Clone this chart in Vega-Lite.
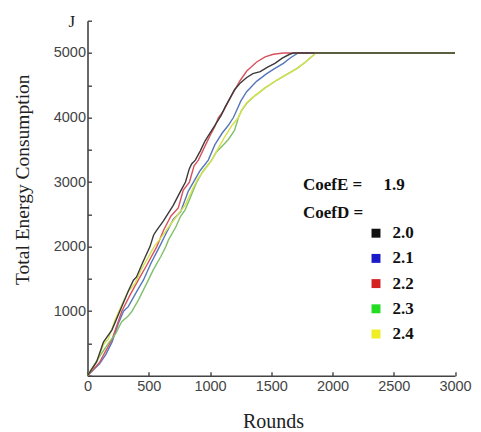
{
  "$schema": "https://vega.github.io/schema/vega-lite/v6.json",
  "autosize": {"type": "none"},
  "width": 367.5,
  "height": 355,
  "padding": {"left": 87.5, "top": 20.7, "right": 26, "bottom": 56.3},
  "background": "white",
  "config": {"view": {"stroke": null}},
  "title": {"text": "J", "anchor": "start", "frame": "group", "orient": "top", "font": "Liberation Serif", "fontSize": 17, "fontWeight": "normal", "color": "#222222", "baseline": "alphabetic", "offset": 0, "dx": -19, "dy": 31.5},
  "data": {"values": [
    {"r":0,"e":0,"c":"2.1"},{"r":100,"e":190,"c":"2.1"},{"r":150,"e":330,"c":"2.1"},{"r":200,"e":520,"c":"2.1"},{"r":252,"e":810,"c":"2.1"},{"r":294,"e":1000,"c":"2.1"},{"r":333,"e":1070,"c":"2.1"},{"r":400,"e":1300,"c":"2.1"},{"r":456,"e":1480,"c":"2.1"},{"r":520,"e":1750,"c":"2.1"},{"r":588,"e":2000,"c":"2.1"},{"r":640,"e":2200,"c":"2.1"},{"r":700,"e":2420,"c":"2.1"},{"r":760,"e":2540,"c":"2.1"},{"r":823,"e":2860,"c":"2.1"},{"r":865,"e":3000,"c":"2.1"},{"r":920,"e":3180,"c":"2.1"},{"r":986,"e":3340,"c":"2.1"},{"r":1040,"e":3580,"c":"2.1"},{"r":1100,"e":3760,"c":"2.1"},{"r":1150,"e":3880,"c":"2.1"},{"r":1191,"e":4000,"c":"2.1"},{"r":1218,"e":4113,"c":"2.1"},{"r":1250,"e":4250,"c":"2.1"},{"r":1299,"e":4400,"c":"2.1"},{"r":1380,"e":4560,"c":"2.1"},{"r":1463,"e":4680,"c":"2.1"},{"r":1530,"e":4760,"c":"2.1"},{"r":1599,"e":4840,"c":"2.1"},{"r":1660,"e":4930,"c":"2.1"},{"r":1720,"e":5000,"c":"2.1"},{"r":3000,"e":5000,"c":"2.1"},

    {"r":0,"e":0,"c":"2.2"},{"r":100,"e":210,"c":"2.2"},{"r":130,"e":320,"c":"2.2"},{"r":200,"e":560,"c":"2.2"},{"r":280,"e":1000,"c":"2.2"},{"r":350,"e":1260,"c":"2.2"},{"r":420,"e":1500,"c":"2.2"},{"r":480,"e":1700,"c":"2.2"},{"r":566,"e":2000,"c":"2.2"},{"r":620,"e":2250,"c":"2.2"},{"r":680,"e":2470,"c":"2.2"},{"r":741,"e":2600,"c":"2.2"},{"r":782,"e":2875,"c":"2.2"},{"r":832,"e":3000,"c":"2.2"},{"r":870,"e":3250,"c":"2.2"},{"r":905,"e":3340,"c":"2.2"},{"r":960,"e":3560,"c":"2.2"},{"r":1000,"e":3720,"c":"2.2"},{"r":1040,"e":3860,"c":"2.2"},{"r":1069,"e":4000,"c":"2.2"},{"r":1109,"e":4100,"c":"2.2"},{"r":1150,"e":4250,"c":"2.2"},{"r":1200,"e":4420,"c":"2.2"},{"r":1245,"e":4570,"c":"2.2"},{"r":1300,"e":4720,"c":"2.2"},{"r":1381,"e":4860,"c":"2.2"},{"r":1450,"e":4940,"c":"2.2"},{"r":1517,"e":4980,"c":"2.2"},{"r":1600,"e":5000,"c":"2.2"},{"r":3000,"e":5000,"c":"2.2"},

    {"r":0,"e":0,"c":"2.3"},{"r":88,"e":269,"c":"2.3"},{"r":170,"e":500,"c":"2.3"},{"r":230,"e":650,"c":"2.3"},{"r":279,"e":836,"c":"2.3"},{"r":330,"e":920,"c":"2.3"},{"r":360,"e":990,"c":"2.3"},{"r":415,"e":1170,"c":"2.3"},{"r":483,"e":1430,"c":"2.3"},{"r":540,"e":1650,"c":"2.3"},{"r":600,"e":1850,"c":"2.3"},{"r":639,"e":2000,"c":"2.3"},{"r":660,"e":2100,"c":"2.3"},{"r":720,"e":2300,"c":"2.3"},{"r":760,"e":2470,"c":"2.3"},{"r":796,"e":2565,"c":"2.3"},{"r":840,"e":2760,"c":"2.3"},{"r":864,"e":2875,"c":"2.3"},{"r":892,"e":3000,"c":"2.3"},{"r":940,"e":3160,"c":"2.3"},{"r":1014,"e":3340,"c":"2.3"},{"r":1050,"e":3460,"c":"2.3"},{"r":1100,"e":3560,"c":"2.3"},{"r":1150,"e":3660,"c":"2.3"},{"r":1200,"e":3800,"c":"2.3"},{"r":1232,"e":4000,"c":"2.3"},{"r":1259,"e":4113,"c":"2.3"},{"r":1300,"e":4220,"c":"2.3"},{"r":1354,"e":4319,"c":"2.3"},{"r":1450,"e":4460,"c":"2.3"},{"r":1544,"e":4577,"c":"2.3"},{"r":1620,"e":4660,"c":"2.3"},{"r":1708,"e":4758,"c":"2.3"},{"r":1780,"e":4860,"c":"2.3"},{"r":1843,"e":4964,"c":"2.3"},{"r":1860,"e":5000,"c":"2.3"},{"r":3000,"e":5000,"c":"2.3"},

    {"r":0,"e":0,"c":"2.4"},{"r":80,"e":230,"c":"2.4"},{"r":130,"e":480,"c":"2.4"},{"r":170,"e":570,"c":"2.4"},{"r":224,"e":860,"c":"2.4"},{"r":280,"e":1100,"c":"2.4"},{"r":330,"e":1300,"c":"2.4"},{"r":388,"e":1430,"c":"2.4"},{"r":440,"e":1650,"c":"2.4"},{"r":500,"e":1850,"c":"2.4"},{"r":544,"e":2000,"c":"2.4"},{"r":605,"e":2150,"c":"2.4"},{"r":700,"e":2400,"c":"2.4"},{"r":760,"e":2550,"c":"2.4"},{"r":800,"e":2650,"c":"2.4"},{"r":860,"e":2900,"c":"2.4"},{"r":900,"e":3050,"c":"2.4"},{"r":960,"e":3200,"c":"2.4"},{"r":1014,"e":3340,"c":"2.4"},{"r":1060,"e":3500,"c":"2.4"},{"r":1120,"e":3700,"c":"2.4"},{"r":1180,"e":3880,"c":"2.4"},{"r":1232,"e":4000,"c":"2.4"},{"r":1260,"e":4120,"c":"2.4"},{"r":1300,"e":4230,"c":"2.4"},{"r":1354,"e":4320,"c":"2.4"},{"r":1450,"e":4460,"c":"2.4"},{"r":1544,"e":4577,"c":"2.4"},{"r":1620,"e":4660,"c":"2.4"},{"r":1708,"e":4758,"c":"2.4"},{"r":1780,"e":4860,"c":"2.4"},{"r":1843,"e":4964,"c":"2.4"},{"r":1860,"e":5000,"c":"2.4"},{"r":3000,"e":5000,"c":"2.4"},

    {"r":0,"e":0,"c":"2.0"},{"r":75,"e":217,"c":"2.0"},{"r":130,"e":520,"c":"2.0"},{"r":200,"e":710,"c":"2.0"},{"r":255,"e":960,"c":"2.0"},{"r":335,"e":1320,"c":"2.0"},{"r":375,"e":1480,"c":"2.0"},{"r":400,"e":1530,"c":"2.0"},{"r":450,"e":1750,"c":"2.0"},{"r":510,"e":2000,"c":"2.0"},{"r":540,"e":2180,"c":"2.0"},{"r":560,"e":2240,"c":"2.0"},{"r":620,"e":2400,"c":"2.0"},{"r":700,"e":2640,"c":"2.0"},{"r":760,"e":2860,"c":"2.0"},{"r":800,"e":3000,"c":"2.0"},{"r":830,"e":3200,"c":"2.0"},{"r":850,"e":3280,"c":"2.0"},{"r":880,"e":3340,"c":"2.0"},{"r":920,"e":3480,"c":"2.0"},{"r":960,"e":3640,"c":"2.0"},{"r":1000,"e":3760,"c":"2.0"},{"r":1040,"e":3880,"c":"2.0"},{"r":1090,"e":4030,"c":"2.0"},{"r":1120,"e":4150,"c":"2.0"},{"r":1160,"e":4290,"c":"2.0"},{"r":1200,"e":4430,"c":"2.0"},{"r":1250,"e":4540,"c":"2.0"},{"r":1300,"e":4620,"c":"2.0"},{"r":1350,"e":4680,"c":"2.0"},{"r":1410,"e":4710,"c":"2.0"},{"r":1470,"e":4780,"c":"2.0"},{"r":1530,"e":4840,"c":"2.0"},{"r":1590,"e":4920,"c":"2.0"},{"r":1650,"e":4980,"c":"2.0"},{"r":1680,"e":5000,"c":"2.0"},{"r":3000,"e":5000,"c":"2.0"}
  ]},
  "mark": {"type": "line", "strokeWidth": 1.4, "interpolate": "linear"},
  "encoding": {
    "x": {
      "field": "r", "type": "quantitative",
      "scale": {"domain": [0, 3000], "nice": false, "zero": true},
      "axis": {
        "title": "Rounds", "values": [0, 500, 1000, 1500, 2000, 2500, 3000], "format": "d",
        "grid": false, "domainColor": "#444444", "domainWidth": 1.6,
        "tickColor": "#444444", "tickWidth": 1.4, "tickSize": -4,
        "labelFont": "Liberation Sans", "labelFontSize": 14.5, "labelColor": "#444444", "labelPadding": 8,
        "labelFlush": false, "labelOverlap": false,
        "titleFont": "Liberation Serif", "titleFontSize": 20, "titleFontWeight": "normal", "titleColor": "#222222",
        "titleBaseline": "alphabetic", "titleY": 51.5, "titleX": 185.5, "titleAlign": "center",
        "encode": {"labels": {"update": {"dx": {"signal": "datum.value === 0 ? -14 : 0"}}}}
      }
    },
    "y": {
      "field": "e", "type": "quantitative",
      "scale": {"domain": [0, 5500], "nice": false},
      "axis": {
        "title": "Total Energy Consumption",
        "values": [0, 500, 1000, 1500, 2000, 2500, 3000, 3500, 4000, 4500, 5000, 5500],
        "labelExpr": "datum.value % 1000 === 0 && datum.value > 0 && datum.value < 5500 ? datum.label : ''",
        "format": "d",
        "grid": false, "domainColor": "#444444", "domainWidth": 1.6,
        "tickColor": "#444444", "tickWidth": 1.4, "tickSize": -4,
        "labelFont": "Liberation Sans", "labelFontSize": 14.5, "labelColor": "#444444", "labelPadding": 6,
        "labelFlush": false, "labelOverlap": false,
        "titleFont": "Liberation Serif", "titleFontSize": 19.5, "titleFontWeight": "normal", "titleColor": "#222222",
        "titleBaseline": "alphabetic", "titleAngle": -90, "titleX": -59.5, "titleY": 158.5, "titleAlign": "center"
      }
    },
    "color": {
      "field": "c", "type": "nominal",
      "scale": {"domain": ["2.0", "2.1", "2.2", "2.3", "2.4"], "range": ["#3a3a3a", "#5577bb", "#d8525c", "#7fbf6a", "#d6e24a"]},
      "legend": {
        "orient": "none", "legendX": 215.5, "legendY": 156, "padding": 0,
        "title": ["CoefE =\u2002\u2002\u00a01.9", "CoefD ="],
        "titleFont": "Liberation Serif", "titleFontSize": 17, "titleFontWeight": "bold", "titleColor": "#111111",
        "titleLineHeight": 28, "titlePadding": 3, "titleAnchor": "start",
        "symbolType": "square", "symbolSize": 80, "symbolStrokeWidth": 0, "symbolOffset": 64.5,
        "labelFont": "Liberation Serif", "labelFontSize": 17, "labelFontWeight": "bold", "labelColor": "#111111",
        "labelOffset": 8, "rowPadding": 7.2,
        "encode": {"symbols": {"update": {
          "fill": {"signal": "datum.value === '2.0' ? '#111111' : datum.value === '2.1' ? '#1a1ac8' : datum.value === '2.2' ? '#d42020' : datum.value === '2.3' ? '#22dd22' : '#eeee22'"},
          "fillOpacity": {"value": 1},
          "strokeWidth": {"value": 0}
        }}}
      }
    }
  }
}
